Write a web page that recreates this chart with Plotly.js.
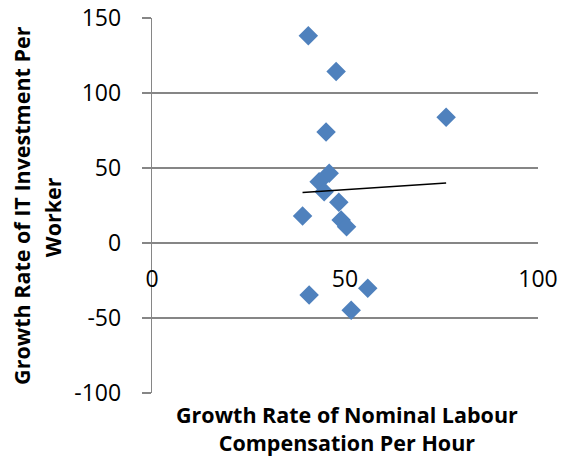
<!DOCTYPE html>
<html>
<head>
<meta charset="utf-8">
<script src="https://cdn.plot.ly/plotly-3.0.1.min.js"></script>
<style>
  html, body { margin: 0; padding: 0; background: #ffffff; }
  #chart { width: 563px; height: 462px; }
</style>
</head>
<body>
<div id="chart"></div>
<script>
// Growth rate of nominal labour compensation per hour (x) against
// growth rate of IT investment per worker (y), one point per economy.
const labourCompGrowth = [40.5, 47.7, 76.2, 45.1, 45.9, 43.3, 44.6, 48.4, 39.0, 49.0, 50.4, 40.7, 55.9, 51.6];
const itInvestGrowth   = [138.2, 114.4, 83.8, 74.0, 46.5, 40.9, 34.2, 27.1, 18.0, 15.3, 10.9, -34.7, -30.2, -44.9];

const xTickValues = [0, 50, 100];
const yTickValues = [-100, -50, 0, 50, 100, 150];

const xTitleLines = ['Growth Rate of Nominal Labour', 'Compensation Per Hour'];
const yTitleLines = ['Growth Rate of IT Investment Per', 'Worker'];

// Ordinary least-squares linear trendline over the data span
function linearFit(xs, ys) {
  const n = xs.length;
  const mx = xs.reduce((a, b) => a + b, 0) / n;
  const my = ys.reduce((a, b) => a + b, 0) / n;
  let sxy = 0, sxx = 0;
  for (let i = 0; i < n; i++) {
    sxy += (xs[i] - mx) * (ys[i] - my);
    sxx += (xs[i] - mx) * (xs[i] - mx);
  }
  const slope = sxy / sxx;
  return { slope: slope, intercept: my - slope * mx };
}
const fit = linearFit(labourCompGrowth, itInvestGrowth);
const xMin = Math.min(...labourCompGrowth);
const xMax = Math.max(...labourCompGrowth);
const trendX = [xMin, xMax];
const trendY = trendX.map(x => fit.intercept + fit.slope * x);

const axisGray = '#868686';
const font = 'Open Sans, Liberation Sans, sans-serif';

const traces = [
  {
    type: 'scatter',
    mode: 'markers',
    x: labourCompGrowth,
    y: itInvestGrowth,
    marker: { symbol: 'diamond', size: 15, color: '#4F81BD', line: { width: 0 } },
    hoverinfo: 'x+y'
  },
  {
    type: 'scatter',
    mode: 'lines',
    x: trendX,
    y: trendY,
    line: { color: '#000000', width: 1.5 },
    hoverinfo: 'skip'
  }
];

const layout = {
  width: 563,
  height: 462,
  margin: { l: 152, r: 25, t: 18, b: 69 },
  paper_bgcolor: '#ffffff',
  plot_bgcolor: '#ffffff',
  showlegend: false,
  font: { family: font, color: '#000000' },
  xaxis: {
    range: [0, 100],
    tickvals: xTickValues,
    ticktext: xTickValues.map(String),
    anchor: 'free',
    position: 0.4,
    showgrid: false,
    zeroline: false,
    showline: true,
    linecolor: axisGray,
    linewidth: 1.3,
    ticks: '',
    ticklabelstandoff: 15,
    tickfont: { family: font, size: 23, color: '#000000' }
  },
  yaxis: {
    range: [-100, 150],
    tickvals: yTickValues,
    ticktext: yTickValues.map(String),
    showgrid: true,
    gridcolor: axisGray,
    gridwidth: 1.3,
    zeroline: false,
    showline: true,
    linecolor: axisGray,
    linewidth: 1.3,
    ticks: 'outside',
    ticklen: 9,
    tickcolor: axisGray,
    tickwidth: 1.3,
    ticklabelstandoff: 16,
    tickfont: { family: font, size: 23, color: '#000000' }
  },
  annotations: [
    {
      xref: 'paper', yref: 'paper', x: 0.505, y: -0.095,
      xanchor: 'center', yanchor: 'middle', showarrow: false,
      text: '<b>' + xTitleLines.join('<br>') + '</b>',
      font: { family: font, size: 21.5, color: '#000000' }
    },
    {
      xref: 'paper', yref: 'paper', x: -0.34, y: 0.501,
      xanchor: 'center', yanchor: 'middle', showarrow: false, textangle: -90,
      text: '<b>' + yTitleLines[0] + '</b>',
      font: { family: font, size: 21.5, color: '#000000' }
    },
    {
      xref: 'paper', yref: 'paper', x: -0.259, y: 0.469,
      xanchor: 'center', yanchor: 'middle', showarrow: false, textangle: -90,
      text: '<b>' + yTitleLines[1] + '</b>',
      font: { family: font, size: 21.5, color: '#000000' }
    }
  ]
};

Plotly.newPlot('chart', traces, layout, { displayModeBar: false, staticPlot: true });
</script>
</body>
</html>
